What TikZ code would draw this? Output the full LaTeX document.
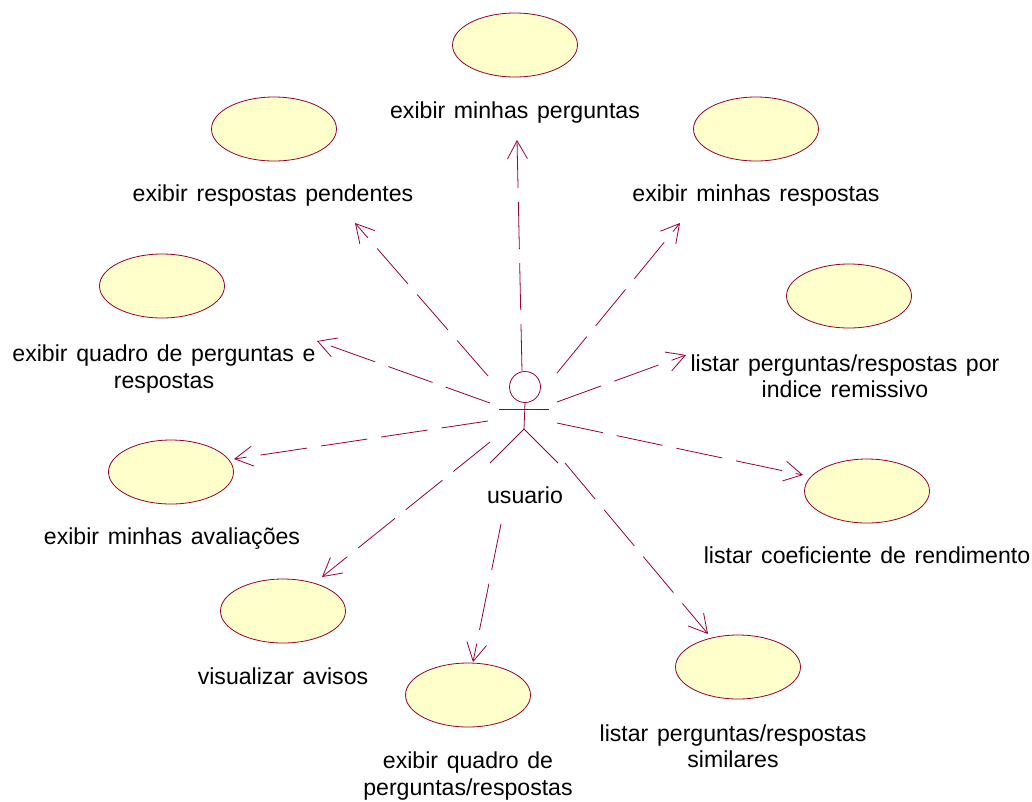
\documentclass[tikz,border=0pt]{standalone}
\usepackage{fontspec}
\setmainfont{Liberation Sans}
\newfontfamily\lblfont[WordSpace=1.35]{Liberation Sans}
\usetikzlibrary{arrows.meta,shapes.geometric}
\definecolor{umlline}{HTML}{990033}
\definecolor{umlfill}{HTML}{FFFFCC}
\tikzset{
  usecase/.style={ellipse,draw=umlline,fill=umlfill,line width=0.8pt,minimum width=125pt,minimum height=64pt,inner sep=0pt},
  lbl/.style={font=\lblfont\fontsize{23.1pt}{26.5pt}\selectfont,align=center,text=black,inner sep=0pt},
  dep/.style={umlline,line width=0.8pt,dash pattern=on 47pt off 14pt,-{Straight Barb[length=18pt,width=20pt,line width=0.8pt]}},
  stick/.style={umlline,line width=0.8pt}
}
\begin{document}
\begin{tikzpicture}[x=1pt,y=-1pt]
\useasboundingbox (0,0) rectangle (1032,801);
\node[usecase] (a) at (515,45) {};
\node[usecase] (b) at (274,129) {};
\node[usecase] (c) at (756,129) {};
\node[usecase] (d) at (162,286) {};
\node[usecase] (e) at (849,296) {};
\node[usecase] (f) at (171,472) {};
\node[usecase] (g) at (867,491) {};
\node[usecase] (h) at (283,611) {};
\node[usecase] (i) at (468,695) {};
\node[usecase] (j) at (738,667) {};
\node[lbl] (la) at (515,113) {exibir minhas perguntas};
\node[lbl] (lb) at (273,196) {exibir respostas pendentes};
\node[lbl] (lc) at (756,196) {exibir minhas respostas};
\node[lbl] (ld) at (164,369) {exibir quadro de perguntas e\\respostas};
\node[lbl] (le) at (845,376) {listar perguntas/respostas por\\indice remissivo};
\node[lbl] (lf) at (172,539) {exibir minhas avaliações};
\node[lbl] (lg) at (867,555) {listar coeficiente de rendimento};
\node[lbl] (lh) at (283,676) {visualizar avisos};
\node[lbl] (li) at (468,776) {exibir quadro de\\perguntas/respostas};
\node[lbl] (lj) at (733,746) {listar perguntas/respostas\\similares};
\node[lbl] (lu) at (525,495) {usuario};
% actor
\node[circle,draw=umlline,line width=0.8pt,minimum size=31pt,inner sep=0pt] (head) at (525,387) {};
\coordinate (neck) at (head.south);
\coordinate (hip) at (524,429);
\coordinate (armL) at (499,409);
\coordinate (armR) at (549,409);
\coordinate (footL) at (490,463);
\coordinate (footR) at (558,463);
\draw[stick] (neck) -- (hip);
\draw[stick] (armL) -- (armR);
\draw[stick] (footL) -- (hip) -- (footR);
% dependency ends
\coordinate (s1) at (522,371); \coordinate (t1) at (517,140);
\coordinate (s2) at (488,376); \coordinate (t2) at (355,223);
\coordinate (s3) at (557,373); \coordinate (t3) at (680,223);
\coordinate (s4) at (557,402); \coordinate (t4) at (686,355);
\coordinate (s5) at (557,423); \coordinate (t5) at (803,475);
\coordinate (s6) at (565,463); \coordinate (t6) at (708,634);
\coordinate (s7) at (501,524); \coordinate (t7) at (473,662);
\coordinate (s8) at (490,442); \coordinate (t8) at (322,577);
\coordinate (s9) at (488,421); \coordinate (t9) at (234,459);
\coordinate (s10) at (490,403); \coordinate (t10) at (317,341);
\foreach \k in {1,...,10} {\draw[dep] (s\k) -- (t\k);}
\end{tikzpicture}
\end{document}
